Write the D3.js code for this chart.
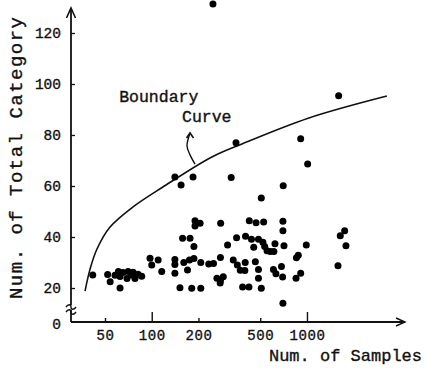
<!DOCTYPE html>
<html>
<head>
<meta charset="utf-8">
<script src="https://cdn.jsdelivr.net/npm/d3@7"></script>
<style>
  body { margin: 0; background: #fff; }
  text { font-family: "Liberation Mono", "Courier New", monospace; fill: #111; stroke: #111; stroke-width: 0.35px; }
</style>
</head>
<body>
<svg id="chart" width="425" height="368"></svg>
<script>
var samples = [41.7, 52, 54, 58, 61, 62.5, 62.5, 65.3, 69.3, 70.4, 74.3, 75.8, 78, 81.6, 86.2,
  97.5, 100, 110, 116, 141, 141, 141, 152, 158, 176.5, 187, 161, 175, 187, 170, 181, 207, 207,
  233, 250, 190, 190, 205, 278, 425, 470, 526, 700, 700, 508, 703, 308, 352, 402, 439, 487, 520,
  534, 553, 580, 612, 622, 711, 454, 990, 879, 855, 277, 335, 356, 372, 400, 398, 465, 487, 685,
  608, 631, 697, 263, 277, 289, 276, 487, 385, 423, 508, 700, 911, 850, 1584, 1639, 1749, 1783,
  1600, 248, 349, 911, 1010, 325, 141, 154.5, 184.5];
var categories = [25.1, 25.3, 22.5, 25.0, 26.5, 24.5, 20.0, 26.1, 23.7, 26.5, 25.1, 26.2, 23.7, 25.4, 24.6,
  31.7, 29.0, 31.0, 26.5, 31.2, 29.2, 25.8, 20.1, 39.5, 39.5, 36.3, 30.0, 31.0, 31.6, 27.1, 19.9, 19.9, 30.0,
  29.4, 29.6, 46.4, 44.3, 45.4, 45.4, 46.4, 45.6, 45.9, 46.2, 42.5, 55.3, 60.1, 36.9, 39.7, 40.3, 39.1, 39.1, 37.9,
  36.3, 34.6, 34.3, 34.3, 37.4, 36.6, 36.0, 36.9, 32.8, 31.9, 32.0, 31.0, 29.0, 27.0, 30.0, 26.9, 30.3, 27.3, 28.4,
  27.3, 25.6, 24.3, 23.8, 22.9, 24.4, 22.0, 23.8, 20.4, 20.4, 19.9, 14.0, 25.8, 23.8, 28.7, 40.5, 42.5, 36.6,
  95.4, 131.4, 77.0, 78.5, 68.6, 63.3, 63.5, 60.4, 63.5];

// boundary curve
var curveSamples = [37.2, 40.1, 44.4, 53.9, 75.8, 118, 244, 381, 1030, 3270];
var curveCategories = [18.8, 27.5, 35.3, 43.9, 51.8, 59.6, 71.4, 76.5, 86.7, 95.3];

// little pointer under the "Curve" label
var pointerSamples = [176.5, 168.8, 176.5, 190];
var pointerCategories = [80.8, 75.7, 72.2, 68.6];

var xTicks = [50, 100, 200, 500, 1000];
var xLongTicks = [100, 1000];
var yTicks = [20, 40, 60, 80, 100, 120];

var svg = d3.select("#chart");
var axisY = 322, axisX = 71;

var x = d3.scaleLog().domain([30.2, 4280]).range([71, 405]);
var y = d3.scaleLinear().domain([20, 120]).range([288, 33]);

// y axis
var gy = svg.append("g").attr("transform", "translate(" + axisX + ",0)")
  .call(d3.axisLeft(y).tickValues(yTicks).tickSize(-4).tickPadding(10));
gy.select(".domain").remove();
gy.selectAll(".tick line").attr("stroke", "#111").attr("stroke-width", 1.3);
gy.selectAll(".tick text").style("font-size", "14.5px").attr("fill", "#111");

svg.append("text").attr("x", axisX - 10).attr("y", axisY + 2).attr("dy", "0.35em")
  .attr("text-anchor", "end").style("font-size", "14.5px").text("0");

// y axis line with a break
svg.append("path")
  .attr("d", "M" + axisX + "," + axisY + "V310M" + axisX + ",305V10")
  .attr("stroke", "#111").attr("stroke-width", 1.8).attr("fill", "none");
svg.append("path")
  .attr("d", "M66,307c2,-3 5,-3 5,0s3,3 5,0M66,312c2,-3 5,-3 5,0s3,3 5,0")
  .attr("stroke", "#111").attr("stroke-width", 1.4).attr("fill", "none");
svg.append("path").attr("d", "M66.5,18L71,8L75.5,18")
  .attr("stroke", "#111").attr("stroke-width", 1.6).attr("fill", "none");

// x axis
var gx = svg.append("g").attr("transform", "translate(0," + axisY + ")")
  .call(d3.axisBottom(x).tickValues(xTicks).tickSize(0).tickFormat(d3.format("d")));
gx.select(".domain").remove();
gx.selectAll(".tick line")
  .attr("y2", function(d) { return xLongTicks.indexOf(d) >= 0 ? -10 : -4; })
  .attr("stroke", "#111").attr("stroke-width", 1.4);
gx.selectAll(".tick text").attr("y", 18).attr("dy", 0)
  .style("font-size", "14px").style("letter-spacing", "0.6px").attr("fill", "#111");

svg.append("path").attr("d", "M" + axisX + "," + axisY + "H405")
  .attr("stroke", "#111").attr("stroke-width", 1.8).attr("fill", "none");
svg.append("path").attr("d", "M396,318L405,322L396,326")
  .attr("stroke", "#111").attr("stroke-width", 1.4).attr("fill", "none");

// axis titles
svg.append("text").attr("x", 422).attr("y", 361).attr("text-anchor", "end")
  .style("font-size", "17px").text("Num. of Samples");
svg.append("text").attr("transform", "translate(22,299) rotate(-90)")
  .attr("textLength", 282).attr("lengthAdjust", "spacing")
  .style("font-size", "19px").text("Num. of Total Category");

// boundary curve
var line = d3.line()
  .x(function(d) { return x(d[0]); })
  .y(function(d) { return y(d[1]); })
  .curve(d3.curveCatmullRom);
svg.append("path")
  .datum(d3.zip(curveSamples, curveCategories))
  .attr("d", line)
  .attr("stroke", "#111").attr("stroke-width", 1.6).attr("fill", "none");

// label + pointer
svg.append("text").attr("x", x(61.7)).attr("y", y(92.9))
  .style("font-size", "16.5px").text("Boundary");
svg.append("text").attr("x", x(156.7)).attr("y", y(85.1))
  .style("font-size", "16.5px").text("Curve");
var ptr = d3.zip(pointerSamples, pointerCategories);
svg.append("path").datum(ptr).attr("d", line)
  .attr("stroke", "#111").attr("stroke-width", 1.4).attr("fill", "none");
var tip = [x(ptr[0][0]), y(ptr[0][1])];
svg.append("path")
  .attr("d", "M" + (tip[0] - 3.5) + "," + (tip[1] + 5) + "L" + tip[0] + "," + tip[1] + "L" + (tip[0] + 3.5) + "," + (tip[1] + 5))
  .attr("stroke", "#111").attr("stroke-width", 1.6).attr("fill", "none");

// points
svg.append("g").selectAll("circle")
  .data(d3.zip(samples, categories))
  .enter()
  .append("circle")
  .attr("cx", function(d) { return x(d[0]); })
  .attr("cy", function(d) { return y(d[1]); })
  .attr("r", 3.5)
  .attr("fill", "#000");
</script>
</body>
</html>
